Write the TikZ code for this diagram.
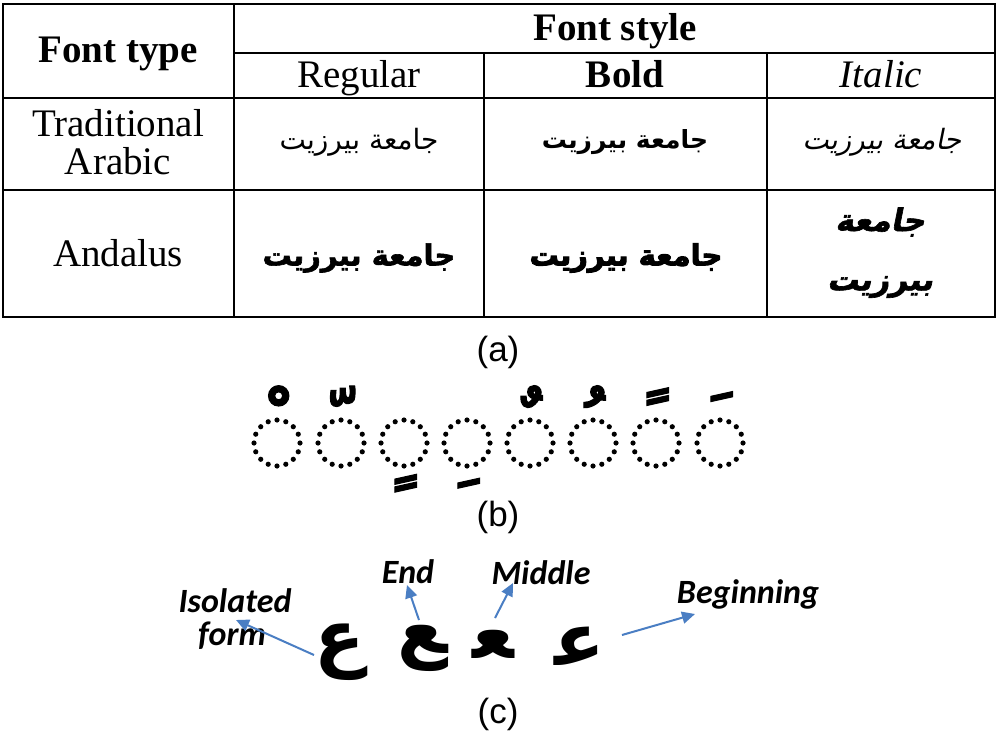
\documentclass[tikz,border=0pt]{standalone}
\usepackage{fontspec}
\setmainfont{Liberation Serif}
\setsansfont{Liberation Sans}
\newfontfamily\arabicfont[Script=Arabic]{DejaVu Sans}
\newfontfamily\arabicit[Script=Arabic,FakeSlant=0.2]{DejaVu Sans}
\newfontfamily\andalus[Script=Arabic,UprightFont={* Bold},FakeBold=2]{DejaVu Sans}
\newfontfamily\andalusbf[Script=Arabic,UprightFont={* Bold},FakeBold=3.5]{DejaVu Sans}
\newfontfamily\andalusit[Script=Arabic,UprightFont={* Bold},FakeBold=2,FakeSlant=0.2]{DejaVu Sans}
\newfontfamily\markfont[Script=Arabic,UprightFont={* Bold},FakeBold=1.5]{DejaVu Sans}
\newfontfamily\letterfont[Script=Arabic,UprightFont={* Bold}]{DejaVu Sans}
\newfontfamily\calibri{Carlito}
\TeXXeTstate=1
\usetikzlibrary{arrows.meta}
\definecolor{arrowblue}{RGB}{74,126,195}
\begin{document}
\begin{tikzpicture}[x=1pt,y=-1pt,
  hdr/.style={font=\fontsize{39}{42}\selectfont\bfseries, anchor=base, inner sep=0pt},
  cell/.style={font=\fontsize{39}{42}\selectfont, anchor=base, inner sep=0pt},
  arab/.style={inner sep=0pt},
  caption/.style={font=\sffamily\fontsize{35}{40}\selectfont, inner sep=0pt},
  dotc/.style={fill=black},
  diacr/.style={font=\markfont\fontsize{76}{76}\selectfont, inner sep=0pt},
  letter/.style={font=\letterfont\fontsize{74}{74}\selectfont, inner sep=0pt},
  lbl/.style={font=\calibri\bfseries\itshape\fontsize{34}{36}\selectfont, inner sep=0pt},
  conn/.style={arrowblue, line width=2pt, -{Triangle[length=13pt,width=12pt]}}
]
\useasboundingbox (0,0) rectangle (998,735);
% ---------- (a) table ----------
\draw[line width=2pt] (3,4) rectangle (995,317);
\draw[line width=2pt] (234,53) -- (995,53);
\draw[line width=2pt] (3,98) -- (995,98);
\draw[line width=2pt] (3,190) -- (995,190);
\draw[line width=2pt] (234,4) -- (234,317);
\draw[line width=2pt] (484,53) -- (484,317);
\draw[line width=2pt] (767,53) -- (767,317);

\node[hdr] (ftype) at (118,63) {Font type};
\node[hdr] (fstyle) at (615,41) {Font style};
\node[cell] (reg) at (359,88) {Regular};
\node[hdr] (bold) at (625,88) {Bold};
\node[cell,font=\fontsize{39}{42}\selectfont\itshape] (ital) at (881,88) {Italic};
\node[cell] (trad1) at (118,137) {Traditional};
\node[cell] (trad2) at (118,175) {Arabic};
\node[cell] (anda) at (118,267) {Andalus};

\node[arab,font=\arabicfont\fontsize{28}{30}\selectfont] (tr) at (359,142) {\beginR جامعة بيرزيت\endR};
\node[arab,font=\arabicfont\bfseries\fontsize{25}{28}\selectfont] (tb) at (625,142) {\beginR جامعة بيرزيت\endR};
\node[arab,font=\arabicit\fontsize{28}{30}\selectfont] (ti) at (882,142) {\beginR جامعة بيرزيت\endR};
\node[arab,font=\andalus\fontsize{29}{32}\selectfont] (ar) at (359,258) {\beginR جامعة بيرزيت\endR};
\node[arab,font=\andalusbf\fontsize{29}{32}\selectfont] (ab) at (626,258) {\beginR جامعة بيرزيت\endR};
\node[arab,font=\andalusit\fontsize{31}{34}\selectfont] (ai1) at (880,222) {\beginR جامعة\endR};
\node[arab,font=\andalusit\fontsize{31}{34}\selectfont] (ai2) at (880,287) {\beginR بيرزيت\endR};

\node[caption] (capa) at (498,352) {(a)};

% ---------- (b) diacritics ----------
\foreach \cx [count=\i] in {277,341,404,467,530,593,656,720}{
  \foreach \k in {0,...,15}{
    \fill[dotc] ({\cx+23*cos(22.5*\k)},{443+23*sin(22.5*\k)}) circle (2.6);
  }
  \coordinate (c\i) at (\cx,443);
}
\node[diacr] (m1) at (273,419) {\char"00A0\char"0652};
\node[diacr] (m2) at (337,419) {\char"00A0\char"0651};
\node[diacr] (m3) at (400,483) {\char"00A0\char"064D};
\node[diacr] (m4) at (463,483) {\char"00A0\char"0650};
\node[diacr] (m5) at (526,419) {\char"00A0\char"064C};
\node[diacr] (m6) at (589,419) {\char"00A0\char"064F};
\node[diacr] (m7) at (652,419) {\char"00A0\char"064B};
\node[diacr] (m8) at (716,419) {\char"00A0\char"064E};

\node[caption] (capb) at (498,517) {(b)};

% ---------- (c) letter forms ----------
\node[letter] (iso) at (340,652) {\char"FEC9};
\node[letter] (fin) at (423,648) {\char"FECA};
\node[letter] (med) at (493,644) {\char"FECC};
\node[letter] (ini) at (580,646) {\char"FECB};

\node[lbl] (liso1) at (235,601) {Isolated};
\node[lbl] (liso2) at (232,636) {form};
\node[lbl] (lend) at (408,572) {End};
\node[lbl] (lmid) at (541,573) {Middle};
\node[lbl] (lbeg) at (748,594) {Beginning};

\coordinate (isoT) at (314,655);
\coordinate (isoH) at (236,620);
\coordinate (finT) at (419,620);
\coordinate (finH) at (407,585);
\coordinate (medT) at (495,618);
\coordinate (medH) at (513,583);
\coordinate (iniT) at (622,635);
\coordinate (iniH) at (695,614);
\draw[conn] (isoT) -- (isoH);
\draw[conn] (finT) -- (finH);
\draw[conn] (medT) -- (medH);
\draw[conn] (iniT) -- (iniH);

\node[caption] (capc) at (498,714) {(c)};
\end{tikzpicture}
\end{document}
